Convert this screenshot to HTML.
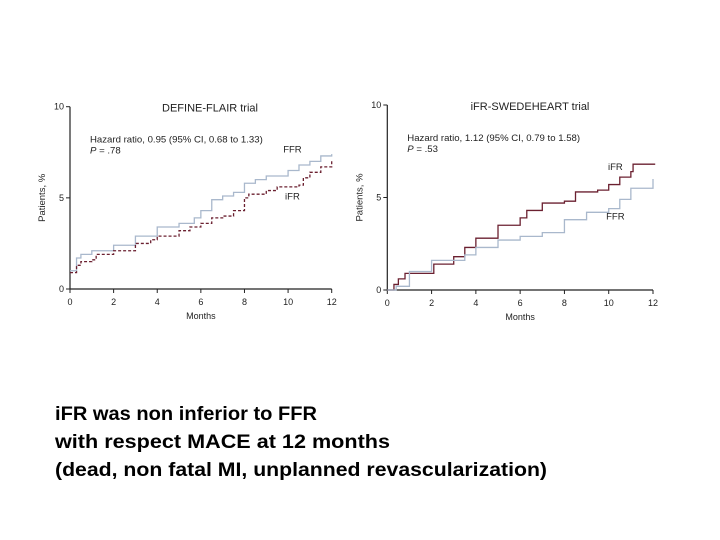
<!DOCTYPE html>
<html><head><meta charset="utf-8"><style>
html,body{margin:0;padding:0;background:#fff;}
svg{display:block;font-family:"Liberation Sans",Arial,sans-serif;}
</style></head><body>
<svg id="s" width="720" height="540" viewBox="0 0 720 540">
<g id="c1"></g>
<g id="c2"></g>
<g font-weight="bold" font-size="19" fill="#000">
<text x="55" y="420" textLength="262" lengthAdjust="spacingAndGlyphs">iFR was non inferior to FFR</text>
<text x="55" y="448" textLength="335" lengthAdjust="spacingAndGlyphs">with respect MACE at 12 months</text>
<text x="55" y="476" textLength="492" lengthAdjust="spacingAndGlyphs">(dead, non fatal MI, unplanned revascularization)</text>
</g>
</svg>
<script>
const xTicks=[0,2,4,6,8,10,12];
const yTicks=[0,5,10];
const leftFFRx=[0,0.3,0.5,1,2,3,4,5,5.7,6,6.5,7,7.5,8,8.5,9,10,10.5,11,11.5,12];
const leftFFRy=[1.0,1.7,1.9,2.1,2.4,2.9,3.4,3.6,3.9,4.3,4.9,5.1,5.3,5.8,6.0,6.2,6.5,6.8,7.0,7.3,7.4];
const leftIFRx=[0,0.3,0.5,1,1.2,2,3,3.7,4,5,5.5,6,6.5,7,7.5,8,8.2,9,9.5,10.5,10.7,11,11.5,12];
const leftIFRy=[0.9,1.3,1.5,1.6,1.9,2.1,2.5,2.7,2.9,3.2,3.4,3.6,3.9,4.0,4.3,5.0,5.2,5.4,5.6,5.7,6.1,6.4,6.7,7.1];
const rightIFRx=[0,0.3,0.5,0.8,2,2.1,3,3.5,4,5,6,6.3,7,8,8.5,9.5,10,10.5,11,11.1,12.1];
const rightIFRy=[0,0.3,0.6,0.9,0.9,1.4,1.8,2.3,2.8,3.5,3.9,4.3,4.7,4.8,5.3,5.4,5.7,6.1,6.4,6.8,6.8];
const rightFFRx=[0,0.4,1,2,3,3.5,4,5,6,7,8,9,10,10.5,11,12];
const rightFFRy=[0,0.2,1.0,1.6,1.6,1.9,2.3,2.7,2.9,3.1,3.8,4.2,4.4,4.9,5.5,6.0];
const NS="http://www.w3.org/2000/svg";
function mk(p,t,a){const e=document.createElementNS(NS,t);for(const k in a)e.setAttribute(k,a[k]);p.appendChild(e);return e;}
function chart(g,o){
 const X=v=>o.x0+(o.x1-o.x0)*v/12, Y=v=>o.y0-(o.y0-o.y1)*v/10;
 const ax=mk(g,'path',{d:`M${X(0)} ${Y(10)}V${Y(0)}H${X(12)}`,stroke:'#222',fill:'none','stroke-width':1.2});
 
 
 xTicks.forEach(v=>{
  const l=mk(g,'line',{x1:X(v),x2:X(v),y1:Y(0),y2:Y(0)+4,stroke:'#222'});
  
  
  const t=mk(g,'text',{x:X(v),y:Y(0)+16,'font-size':9,'text-anchor':'middle',fill:'#222'});t.textContent=v;
  
  
 });
 yTicks.forEach(v=>{
  const l=mk(g,'line',{x1:X(0)-4,x2:X(0),y1:Y(v),y2:Y(v),stroke:'#222'});
  
  
  const t=mk(g,'text',{x:X(0)-6,y:Y(v)+3,'font-size':9,'text-anchor':'end',fill:'#222'});t.textContent=v;
  
  
 });
 let t=mk(g,'text',{x:(X(0)+X(12))/2,y:Y(0)+30,'font-size':9,'text-anchor':'middle',fill:'#222'});t.textContent='Months';
 
 
 const yc=Y(5);
 t=mk(g,'text',{x:0,y:0,'font-size':9.5,'text-anchor':'middle',fill:'#222',transform:`translate(${X(0)-25},${yc}) rotate(-90)`});t.textContent='Patients, %';
 
 
 t=mk(g,'text',{x:o.tx,y:Y(10)+5,'font-size':11,'text-anchor':'middle',fill:'#222'});t.textContent=o.title;
 
 
 t=mk(g,'text',{x:X(0)+20,y:Y(10)+36,'font-size':9.6,fill:'#222'});t.textContent=o.hr;
 
 
 t=mk(g,'text',{x:X(0)+20,y:Y(10)+47,'font-size':9.6,fill:'#222'});t.innerHTML='<tspan font-style="italic">P</tspan> = '+o.p;
 
 
 o.series.forEach(s=>{
  let d=`M${X(s.x[0])} ${Y(s.y[0])}`;
  for(let i=1;i<s.x.length;i++){d+=`H${X(s.x[i])}V${Y(s.y[i])}`;}
  const p=mk(g,'path',{d,stroke:s.c,fill:'none','stroke-width':1.3,'stroke-dasharray':s.dash||'none'});
  
  
  const l=mk(g,'text',{x:X(s.lx),y:Y(s.ly),'font-size':9.5,fill:'#222','text-anchor':'middle'});l.textContent=s.label;
  
  
 });
}
chart(document.getElementById('c1'),{x0:70,x1:331.7,y0:289,y1:106.7,tx:210,title:'DEFINE-FLAIR trial',hr:'Hazard ratio, 0.95 (95% CI, 0.68 to 1.33)',p:'.78',
 series:[{name:'ffr-line',x:leftFFRx,y:leftFFRy,c:'#a9b8cc',label:'FFR',lx:10.2,ly:7.5},
 {name:'ifr-line',x:leftIFRx,y:leftIFRy,c:'#6b2030',dash:'3,2',label:'iFR',lx:10.2,ly:4.9}]});
chart(document.getElementById('c2'),{x0:387.3,x1:653,y0:290,y1:105,tx:530,title:'iFR-SWEDEHEART trial',hr:'Hazard ratio, 1.12 (95% CI, 0.79 to 1.58)',p:'.53',
 series:[{name:'ifr-line',x:rightIFRx,y:rightIFRy,c:'#6b2030',label:'iFR',lx:10.3,ly:6.5},
 {name:'ffr-line',x:rightFFRx,y:rightFFRy,c:'#a9b8cc',label:'FFR',lx:10.3,ly:3.8}]});
</script>
</body></html>
